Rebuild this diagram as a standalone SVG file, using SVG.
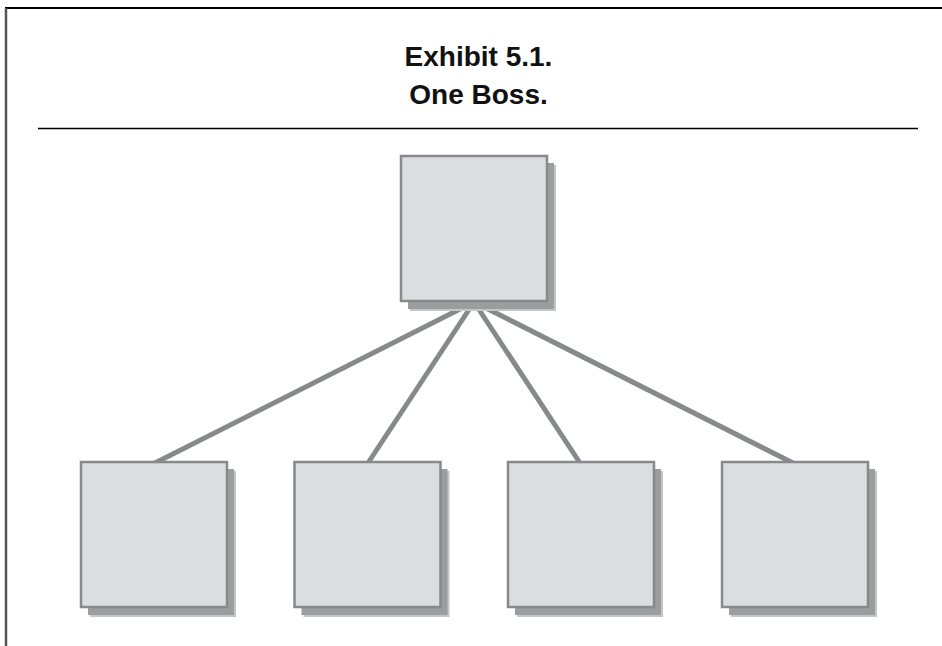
<svg xmlns="http://www.w3.org/2000/svg" width="942" height="646" viewBox="0 0 942 646">
  <style>
    .title { font-family: "Liberation Sans", Arial, sans-serif; font-weight: bold; font-size: 28px; fill: #111; text-anchor: middle; }
    .box { fill: #dcdde0; stroke: #88898b; stroke-width: 2.5; }
    .shadow { fill: #9c9d9f; }
    .shadow-soft { fill: #c4c5c7; }
    .link { stroke: #88898b; stroke-width: 5; fill: none; }
  </style>
  <defs>
    <!-- drop-shadowed square used for every node -->
    <g id="node">
      <rect class="shadow-soft" x="9" y="9" width="146" height="146"/>
      <rect class="shadow" x="7" y="7" width="146" height="146"/>
      <rect class="box" x="0" y="0" width="146" height="145"/>
    </g>
  </defs>

  <rect width="942" height="646" fill="#ffffff"/>

  <!-- frame -->
  <line x1="5" y1="8" x2="942" y2="8" stroke="#000" stroke-width="2"/>
  <line x1="6" y1="8" x2="6" y2="646" stroke="#555" stroke-width="2.5"/>

  <!-- heading -->
  <text class="title" x="478.5" y="66">Exhibit 5.1.</text>
  <text class="title" x="478.5" y="104">One Boss.</text>
  <line x1="38" y1="128.5" x2="918" y2="128.5" stroke="#000" stroke-width="1.5"/>

  <!-- connectors -->
  <g id="connectors">
    <line class="link" x1="474" y1="302" x2="155" y2="463"/>
    <line class="link" x1="474" y1="302" x2="368" y2="463"/>
    <line class="link" x1="474" y1="302" x2="580" y2="463"/>
    <line class="link" x1="474" y1="302" x2="793" y2="463"/>
  </g>

  <!-- nodes -->
  <g id="boss"><use href="#node" x="401" y="156"/></g>
  <g id="report-1"><use href="#node" x="81" y="462"/></g>
  <g id="report-2"><use href="#node" x="294.5" y="462"/></g>
  <g id="report-3"><use href="#node" x="508" y="462"/></g>
  <g id="report-4"><use href="#node" x="722" y="462"/></g>
</svg>
